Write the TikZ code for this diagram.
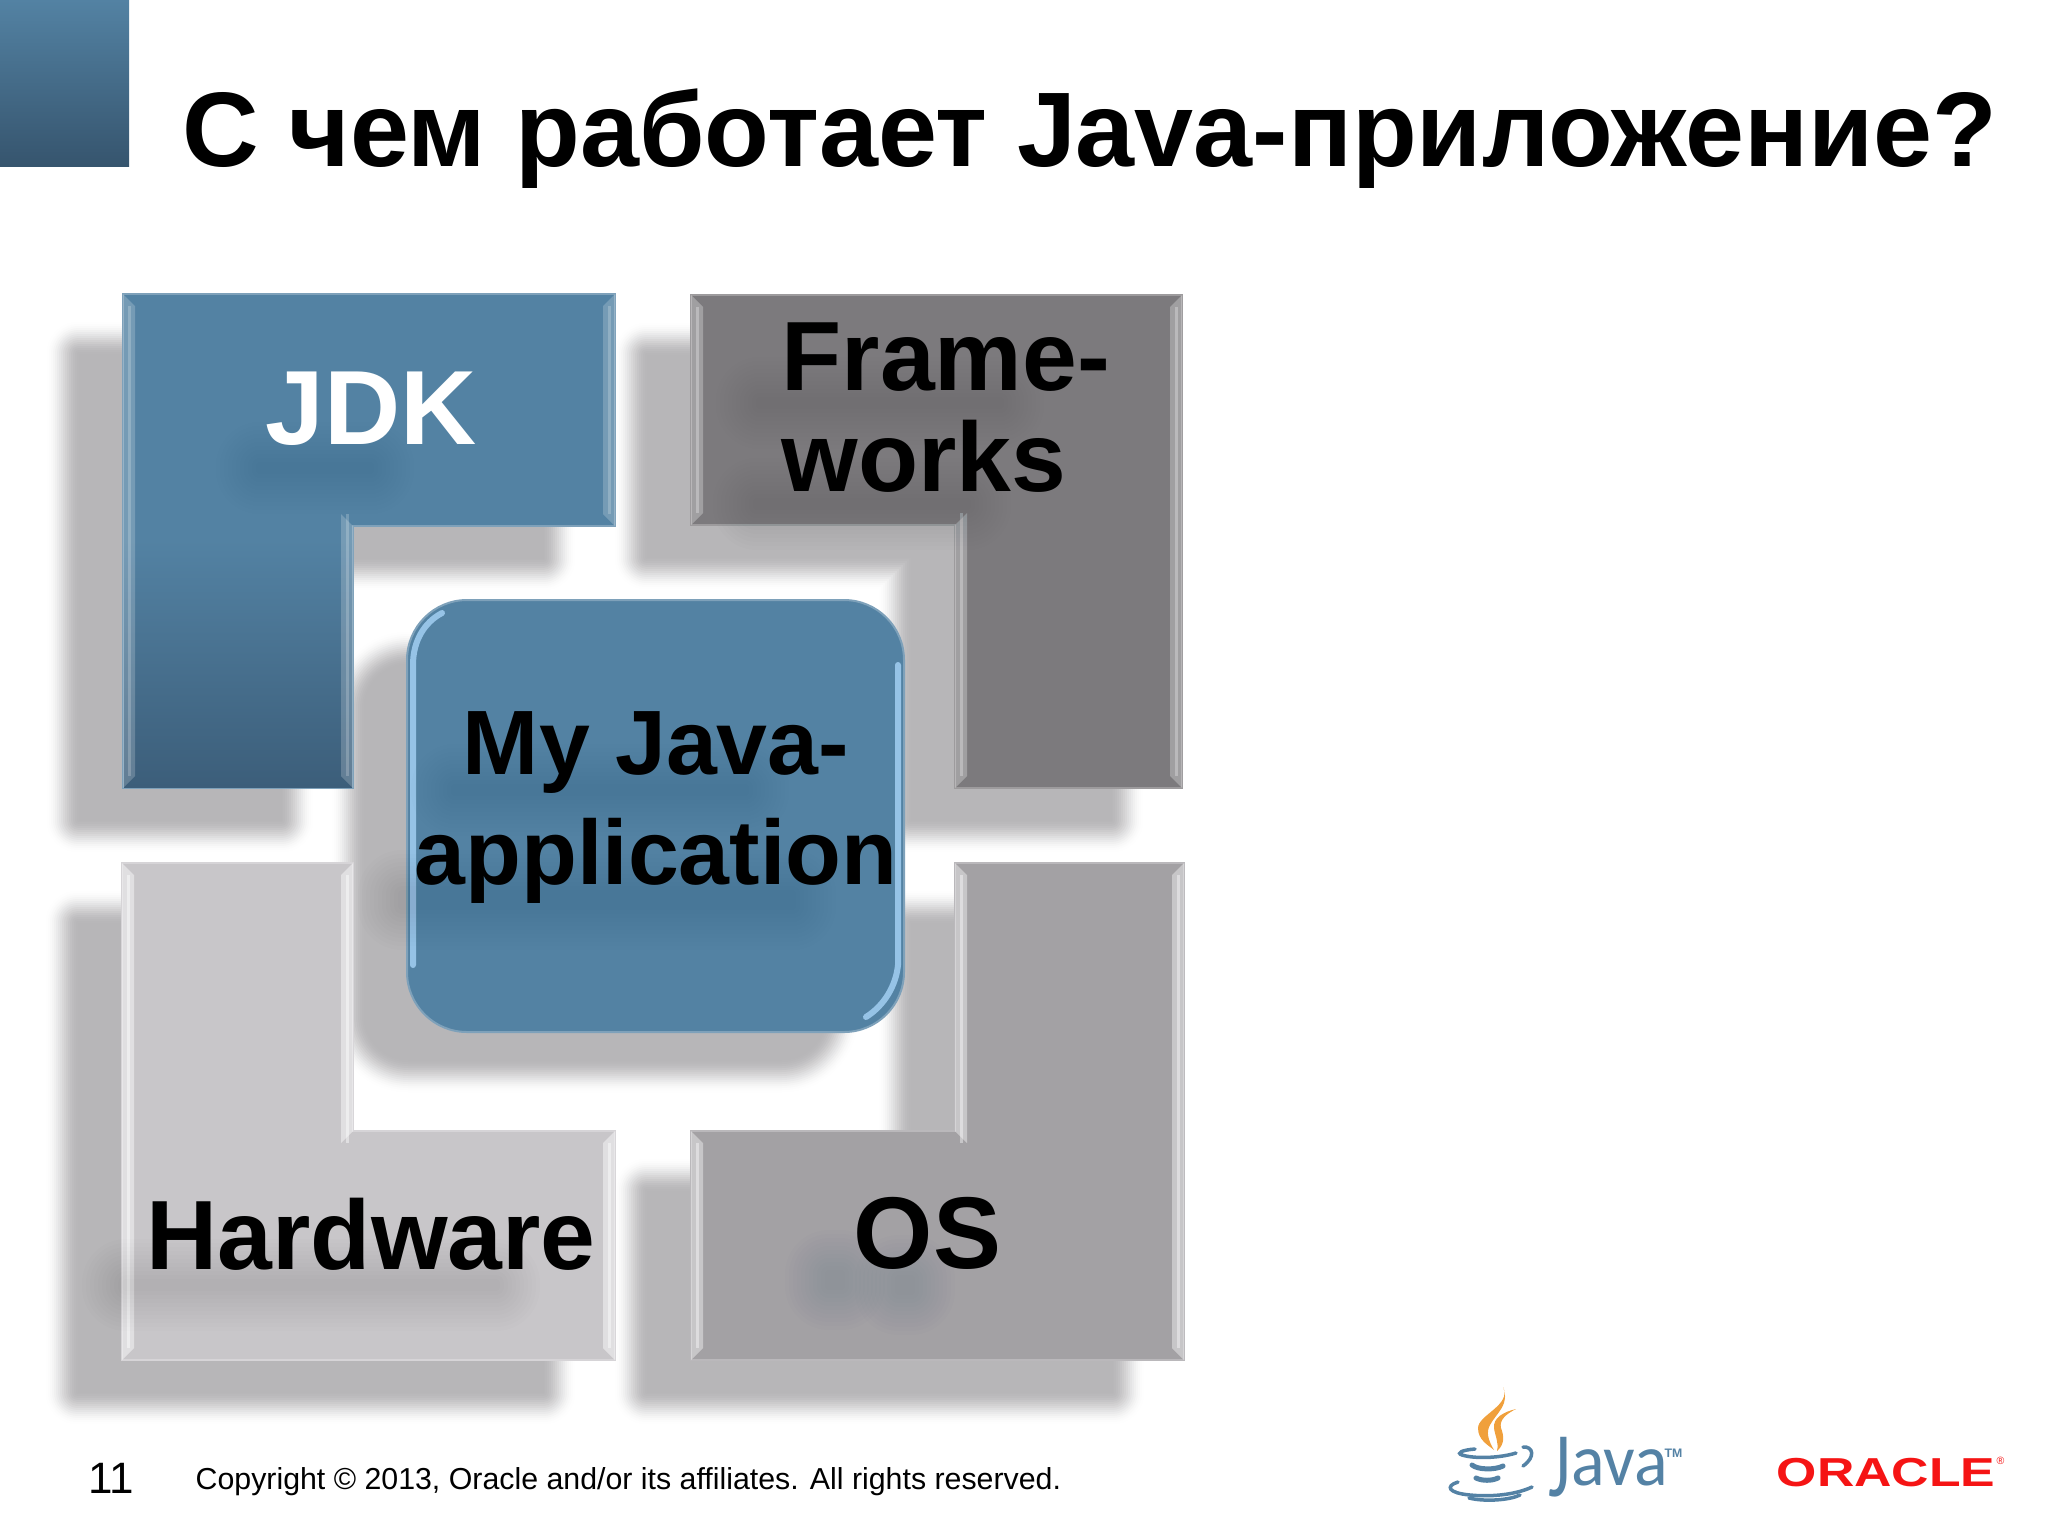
\documentclass[tikz,border=0pt]{standalone}
\usepackage{fontspec}
\setmainfont{Liberation Sans}
\newfontfamily\logofont{Carlito}
\usetikzlibrary{positioning}

\definecolor{jdkblue}{RGB}{83,130,163}
\definecolor{jdkdark}{RGB}{60,94,122}
\definecolor{framegray}{RGB}{124,122,125}
\definecolor{hwgray}{RGB}{200,198,201}
\definecolor{osgray}{RGB}{163,161,164}
\definecolor{shadowgray}{RGB}{183,182,184}
\definecolor{capblue}{RGB}{84,130,165}
\definecolor{flame}{RGB}{240,160,60}
\definecolor{oraclered}{RGB}{245,20,20}
\definecolor{glint}{RGB}{150,195,230}

\tikzset{
    boxline/.style={line width=0.02cm},
    caption/.style={inner sep=0pt, anchor=base west, font=\fontsize{#1}{#1}\bfseries\selectfont},
    cupline/.style={draw=capblue, line width=0.035cm, line cap=round},
}

\newcommand{\softshadow}[2][]{%
    \foreach \w [evaluate=\w as \c using {100*(1-\w/68)*(1-\w/68)*(1+2*\w/68)}] in {68,64,...,0} {
        \path[blend mode=darken, fill=shadowgray!\c!white, draw=shadowgray!\c!white, line join=round, #1, line width=\w*0.01cm] #2;
    }
}
\newcommand{\textblur}[4]{%
    \foreach \w in {4,8,...,44} {
        \fill[black!70!jdkdark, opacity=0.008, rounded corners=\w*0.01cm] ({#1-#3-\w},{#2-#4-\w}) rectangle ({#1+#3+\w},{#2+#4+\w});
    }
}
\newcommand{\edgestrips}[2]{%
    \foreach \xa/\dx/\ya/\da/\yb/\db in {#2} {
        \fill[white, opacity=#1] (\xa,\ya)--({\xa+\dx},{\ya+\da})--({\xa+\dx},{\yb-\db})--(\xa,\yb)--cycle;
        \draw[white, opacity=#1, line width=0.03cm] ({\xa+0.5*\dx},{\ya+\da})--({\xa+0.5*\dx},{\yb-\db});
    }
}

\begin{document}
\begin{tikzpicture}[x=0.01cm, y=-0.01cm]
    \useasboundingbox (0,0) rectangle (2048,1536);

    % corner block and title
    \shade[top color=jdkblue, bottom color=jdkdark!90!black] (0,0) rectangle (129,166);
    \node[inner sep=0pt, anchor=base west, font=\fontsize{30.15}{30.15}\bfseries\selectfont] (title) at (182,166) {С чем работает Java-приложение?};

    % shadows
    \softshadow{(79,354)--(543,354)--(543,558)--(281,558)--(281,820)--(79,820)--cycle}
    \softshadow{(647,355)--(1111,355)--(1111,820)--(911,820)--(911,557)--(647,557)--cycle}
    \softshadow{(78,923)--(281,923)--(281,1191)--(543,1191)--(543,1392)--(78,1392)--cycle}
    \softshadow{(911,923)--(1112,923)--(1112,1392)--(647,1392)--(647,1191)--(911,1191)--cycle}
    \softshadow[rounded corners=0.45cm]{(364,664)--(826,664)--(826,1060)--(364,1060)--cycle}

    % four corner pieces
    \filldraw[boxline, fill=jdkblue, draw=jdkblue!75!white] (123,294)--(615,294)--(615,526)--(353,526)--(353,788)--(123,788)--cycle;
    \shade[top color=jdkblue, bottom color=jdkdark] (124,540) rectangle (352,787);
    \edgestrips{0.2}{123/12/294/12/788/12, 615/-12/294/12/526/12, 353/-12/526/-12/788/12}

    \filldraw[boxline, fill=framegray, draw=framegray!75!white] (691,295)--(1182,295)--(1182,788)--(955,788)--(955,525)--(691,525)--cycle;
    \edgestrips{0.28}{691/12/295/12/525/12, 1182/-12/295/12/788/12, 955/12/525/-12/788/12}

    \filldraw[boxline, fill=hwgray, draw=hwgray!75!white] (122,863)--(353,863)--(353,1131)--(615,1131)--(615,1360)--(122,1360)--cycle;
    \edgestrips{0.45}{122/12/863/12/1360/12, 353/-12/863/12/1131/-12, 615/-12/1131/12/1360/12}

    \filldraw[boxline, fill=osgray, draw=osgray!75!white] (955,863)--(1184,863)--(1184,1360)--(691,1360)--(691,1131)--(955,1131)--cycle;
    \edgestrips{0.4}{691/12/1131/12/1360/12, 1184/-12/863/12/1360/12, 955/12/863/12/1131/-12}

    % middle box
    \filldraw[boxline, fill=jdkblue, draw=jdkblue!75!white, rounded corners=0.6cm] (407,600)--(904,600)--(904,1032)--(407,1032)--cycle;
    \draw[line width=0.06cm, line cap=round, draw=glint] (413,965)--(413,665) .. controls (413,640) and (425,622) .. (442,613);
    \draw[line width=0.06cm, line cap=round, draw=glint] (898,665)--(898,965) .. controls (896,985) and (885,1005) .. (866,1017);

    % blurred text shades
    \textblur{315}{468}{55}{2}
    \textblur{880}{403}{120}{2}
    \textblur{862}{504}{105}{2}
    \textblur{600}{790}{145}{2}
    \textblur{597}{900}{195}{6}
    \textblur{311}{1285}{185}{2}
    \textblur{835}{1280}{6}{6}
    \textblur{905}{1285}{6}{6}

    % labels
    \node[caption=30, text=white] (jdk) at (265,444) {JDK};
    \node[caption=28, align=left] (frameworks) at (781,491) {Frame-\\[0.6pt]works};
    \node[caption=26, anchor=base, align=center] (myapp) at (656,884) {My Java-\\[5pt]application};
    \node[caption=28] (hardware) at (146,1269) {Hardware};
    \node[caption=29] (os) at (853,1268) {OS};

    % footer
    \node[inner sep=0pt, anchor=base west, font=\fontsize{12.5}{12.5}\selectfont] (pagenum) at (88,1493) {11};
    \node[inner sep=0pt, anchor=base west, font=\fontsize{8.62}{8.62}\selectfont] (copyright) at (195,1489) {Copyright © 2013, Oracle and/or its affiliates. All rights reserved.};

    % java logo
    \fill[flame] (1503,1387) .. controls (1512,1405) and (1478,1415) .. (1478,1428) .. controls (1478,1440) and (1488,1445) .. (1494,1450) .. controls (1488,1440) and (1486,1432) .. (1490,1425) .. controls (1497,1412) and (1510,1405) .. (1503,1387);
    \fill[flame] (1516,1409) .. controls (1503,1412) and (1493,1418) .. (1494,1428) .. controls (1495,1436) and (1499,1442) .. (1497,1451) .. controls (1505,1444) and (1504,1436) .. (1501,1428) .. controls (1499,1420) and (1506,1414) .. (1516,1409);
    \draw[cupline] (1475,1449) .. controls (1462,1450) and (1456,1453) .. (1462,1455) .. controls (1475,1459) and (1500,1458) .. (1516,1453);
    \draw[cupline] (1523,1447) .. controls (1533,1446) and (1536,1457) .. (1523,1466);
    \draw[cupline, line width=0.05cm] (1472,1465) .. controls (1478,1470) and (1495,1470) .. (1503,1466);
    \draw[cupline, line width=0.05cm] (1476,1478) .. controls (1482,1481) and (1492,1481) .. (1498,1478);
    \draw[cupline] (1458,1482) .. controls (1445,1486) and (1448,1493) .. (1470,1495) .. controls (1490,1497) and (1515,1495) .. (1532,1487);
    \draw[cupline] (1469,1498) .. controls (1485,1502) and (1510,1500) .. (1520,1495);
    \node[inner sep=0pt, anchor=base west, text=capblue, xscale=0.95, font=\logofont\fontsize{21}{21}\selectfont] (javaword) at (1548,1485) {\raisebox{-3.4pt}{\scalebox{1}[1.25]{J}}ava};
    \node[inner sep=0pt, anchor=base west, text=capblue, font=\fontsize{3.5}{3.5}\bfseries\selectfont] (javatm) at (1664,1457) {TM};

    % oracle logo
    \node[inner sep=0pt, anchor=base west, text=oraclered, xscale=1.28, font=\fontsize{11.5}{11.5}\bfseries\selectfont] (oracle) at (1776,1486) {ORACLE};
    \node[inner sep=0pt, anchor=base west, text=oraclered, font=\fontsize{3}{3}\selectfont] (oraclereg) at (1996,1464) {®};
\end{tikzpicture}
\end{document}
